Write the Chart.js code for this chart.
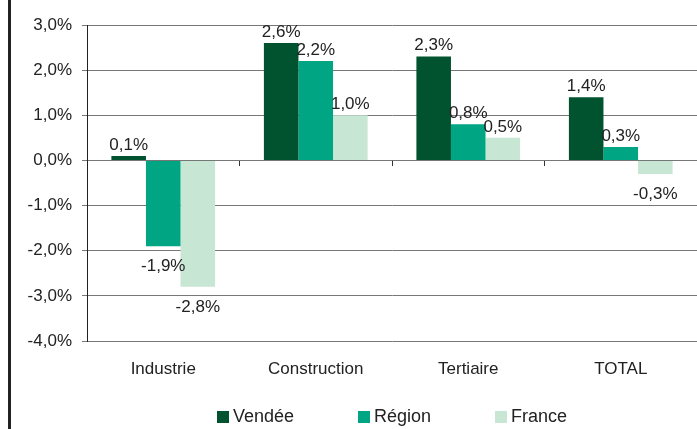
<!DOCTYPE html>
<html>
<head>
<meta charset="utf-8">
<title>Emploi par secteur</title>
<script src="https://cdn.jsdelivr.net/npm/chart.js@4"></script>
<style>
  body { margin: 0; background: #fff; }
  #wrap { position: relative; width: 697px; height: 429px; overflow: hidden; }
  #frame { position: absolute; left: 8px; top: 0; width: 3px; height: 429px; background: #222; }
  #legend {
    position: absolute; left: 87px; top: 406px; width: 610px;
    display: flex; justify-content: center; gap: 64px;
    font: 18px "Liberation Sans", Arial, sans-serif; color: #222; line-height: 20px;
  }
  #legend span.box { display: inline-block; width: 12px; height: 12px; margin-right: 4px; vertical-align: -1px; }
</style>
</head>
<body>
<div id="wrap">
  <canvas id="chart"></canvas>
  <div id="frame"></div>
  <div id="legend"></div>
</div>
<script>
// categories and series (values in %)
const categories = ['Industrie', 'Construction', 'Tertiaire', 'TOTAL'];
const vendee = [0.1, 2.6, 2.3, 1.4];
const region = [-1.9, 2.2, 0.8, 0.3];
const france = [-2.8, 1.0, 0.5, -0.3];
const seriesNames = ['Vendée', 'Région', 'France'];
const seriesColors = ['#01532F', '#00A584', '#C8E6D4'];

const fmt = v => v.toFixed(1).replace('.', ',') + '%';

Chart.defaults.font.family = '"Liberation Sans", Arial, sans-serif';
Chart.defaults.font.size = 17;
Chart.defaults.color = '#222';

// labels over / under each bar
const valueLabels = {
  id: 'valueLabels',
  afterDatasetsDraw(chart) {
    const ctx = chart.ctx;
    ctx.save();
    ctx.font = '17px "Liberation Sans", Arial, sans-serif';
    ctx.fillStyle = '#222';
    ctx.textAlign = 'center';
    ctx.textBaseline = 'middle';
    chart.data.datasets.forEach((ds, i) => {
      chart.getDatasetMeta(i).data.forEach((bar, j) => {
        const v = ds.data[j];
        const y = v >= 0 ? bar.y - 11 : bar.y + 20;
        ctx.fillText(fmt(v), bar.x, y);
      });
    });
    ctx.restore();
  }
};

const datasets = [vendee, region, france].map((d, i) => ({
  label: seriesNames[i],
  data: d,
  backgroundColor: seriesColors[i],
  borderWidth: 0,
  xAxisID: 'x',
  barPercentage: 1,
  categoryPercentage: 0.68,
}));

const ctx = document.getElementById('chart').getContext('2d');
new Chart(ctx, {
  type: 'bar',
  data: { labels: categories, datasets: datasets },
  options: {
    responsive: true,
    maintainAspectRatio: false,
    animation: false,
    layout: { padding: { top: 25, right: 0, bottom: 43, left: 0 } },
    plugins: {
      legend: { display: false },
      tooltip: { enabled: false },
    },
    scales: {
      x: {
        type: 'category',
        offset: true,
        grid: { display: false },
        border: { display: false },
        ticks: { padding: 10, maxRotation: 0 },
        afterFit: s => { s.height = 45; },
      },
      x0: {
        type: 'category',
        axis: 'x',
        position: { y: 0 },
        offset: true,
        grid: { offset: true, drawOnChartArea: false, tickLength: 6, color: '#333' },
        border: { display: false },
        ticks: { display: false },
      },
      y: {
        min: -4,
        max: 3,
        ticks: { stepSize: 1, padding: 10, callback: v => fmt(v) },
        grid: { color: '#777', tickLength: 5 },
        border: { color: '#222', width: 1 },
        afterFit: s => { s.width = 87; },
      },
    },
  },
  plugins: [valueLabels],
});

// legend under the chart
const legend = document.getElementById('legend');
seriesNames.forEach((name, i) => {
  const item = document.createElement('div');
  const box = document.createElement('span');
  box.className = 'box';
  box.style.background = seriesColors[i];
  item.appendChild(box);
  item.appendChild(document.createTextNode(name));
  legend.appendChild(item);
});
</script>
</body>
</html>
